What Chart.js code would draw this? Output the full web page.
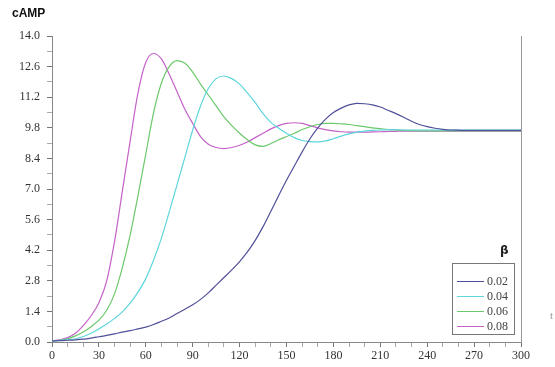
<!DOCTYPE html>
<html>
<head>
<meta charset="utf-8">
<script src="https://cdn.jsdelivr.net/npm/chart.js@4"></script>
<style>
  html, body { margin: 0; padding: 0; background: #fff; overflow: hidden; }
  #wrap { position: relative; width: 555px; height: 367px; }
  #c { position: absolute; left: 0; top: 0; }
  .ylab { position: absolute; left: 12px; top: 6px; font: bold 12px "Liberation Sans", Arial, sans-serif; color: #111; }
  .beta { position: absolute; left: 500px; top: 243px; font: bold 12px "DejaVu Sans", sans-serif; color: #222; }
  .tcut { position: absolute; left: 550px; top: 309px; font: 11px "Liberation Serif", serif; color: #999; }
  #legend { position: absolute; left: 452px; top: 263px; width: 63px; height: 72px; border: 1px solid #777; box-sizing: border-box; }
  .row { position: absolute; left: 4px; height: 14px; width: 60px; font: 12px "Liberation Serif", serif; color: #444; }
  .row i { position: absolute; left: 0; top: 7px; width: 27px; height: 0; border-top: 1px solid; }
  .row span { position: absolute; left: 30px; top: 0; line-height: 14px; }
</style>
</head>
<body>
<div id="wrap">
  <canvas id="c" width="555" height="367"></canvas>
  <div class="ylab">cAMP</div>
  <div class="beta">β</div>
  <div id="legend"></div>
  <div class="tcut">t</div>
</div>
<script>
// ── Veri ─────────────────────────────────────────
const tVals = [0,5,10,15,20,25,30,35,40,45,50,55,60,65,70,75,80,85,90,95,
  100,105,110,115,120,125,130,135,140,145,150,155,160,165,170,175,180,185,190,195,
  200,205,210,215,220,225,230,235,240,245,250,255,260,265,270,275,280,285,290,295,300];

const betaLabels = ['0.02', '0.04', '0.06', '0.08'];
const betaColors = ['#50509a', '#5fd6dc', '#6cc86c', '#c462c8'];

const camp002 = [0.05,0.06,0.08,0.1,0.13,0.18,0.24,0.3,0.37,0.45,0.52,0.6,0.68,0.8,0.95,1.1,1.3,1.5,1.7,1.95,
  2.25,2.6,2.95,3.3,3.68,4.12,4.65,5.28,5.98,6.7,7.4,8.05,8.7,9.3,9.8,10.2,10.5,10.7,10.85,10.92,
  10.9,10.85,10.75,10.6,10.45,10.28,10.1,9.95,9.85,9.78,9.73,9.7,9.69,9.68,9.68,9.68,9.68,9.68,9.68,9.68,9.68];

const camp004 = [0.05,0.07,0.1,0.15,0.25,0.4,0.6,0.82,1.08,1.38,1.78,2.28,2.9,3.75,4.75,5.95,7.2,8.45,9.7,10.8,
  11.6,12.05,12.17,12.05,11.8,11.4,10.95,10.45,10.05,9.78,9.55,9.35,9.22,9.17,9.16,9.2,9.3,9.42,9.52,9.6,
  9.65,9.68,9.7,9.71,9.72,9.7,9.7,9.7,9.7,9.7,9.7,9.7,9.7,9.7,9.7,9.7,9.7,9.7,9.7,9.7,9.7];

const camp006 = [0.05,0.08,0.15,0.28,0.46,0.7,1.0,1.45,2.2,3.4,4.9,6.7,8.6,10.5,11.85,12.6,12.87,12.75,12.35,11.8,
  11.3,10.8,10.3,9.9,9.55,9.25,9.02,8.95,9.08,9.25,9.4,9.55,9.72,9.85,9.95,10.0,10.0,9.98,9.95,9.9,
  9.85,9.8,9.76,9.72,9.7,9.68,9.67,9.66,9.66,9.66,9.66,9.66,9.66,9.66,9.66,9.66,9.66,9.66,9.66,9.66,9.66];

const camp008 = [0.05,0.1,0.2,0.4,0.75,1.2,1.8,2.8,4.6,6.9,9.2,11.4,12.8,13.2,12.95,12.25,11.45,10.65,10.0,9.4,
  9.05,8.9,8.85,8.9,9.0,9.15,9.35,9.55,9.75,9.9,10.0,10.03,10.0,9.9,9.8,9.72,9.66,9.62,9.6,9.6,
  9.6,9.61,9.62,9.63,9.64,9.65,9.65,9.65,9.65,9.65,9.65,9.65,9.65,9.65,9.65,9.65,9.65,9.65,9.65,9.65,9.65];

const seriesVals = [camp002, camp004, camp006, camp008];

// ── Lejant ───────────────────────────────────────
const legendEl = document.getElementById('legend');
betaLabels.forEach((lbl, i) => {
  const top = 10 + i * 15;
  legendEl.innerHTML += `<div class="row" style="top:${top}px"><i style="border-color:${betaColors[i]}"></i><span>${lbl}</span></div>`;
});

// ── Grafik ───────────────────────────────────────
const tickFont = { family: '"Liberation Serif", "Times New Roman", serif', size: 12 };

new Chart(document.getElementById('c'), {
  type: 'line',
  data: {
    datasets: seriesVals.map((vals, i) => ({
      label: betaLabels[i],
      data: tVals.map((t, j) => ({ x: t, y: vals[j] })),
      borderColor: betaColors[i],
      borderWidth: 1.2,
      pointRadius: 0,
      cubicInterpolationMode: 'monotone',
      fill: false
    }))
  },
  options: {
    responsive: false,
    animation: false,
    layout: { padding: { top: 36, right: 34, left: 0, bottom: 0 } },
    plugins: { legend: { display: false }, tooltip: { enabled: false } },
    scales: {
      x: {
        type: 'linear', min: 0, max: 300,
        afterFit: s => { s.height = 25; },
        grid: {
          drawOnChartArea: false, tickLength: 5,
          tickColor: c => (c.tick && c.tick.value % 30 === 0) ? '#777' : '#aaa'
        },
        border: { color: '#888', width: 1 },
        ticks: {
          stepSize: 10, autoSkip: false, maxRotation: 0, padding: 2,
          color: '#333', font: tickFont,
          callback: v => v % 30 === 0 ? String(v) : ''
        }
      },
      y: {
        min: 0, max: 14,
        afterFit: s => { s.width = 52; },
        grid: {
          drawOnChartArea: false, tickLength: 5,
          tickColor: c => (c.index % 2 === 0) ? '#777' : '#aaa'
        },
        border: { color: '#888', width: 1 },
        ticks: {
          stepSize: 0.7, autoSkip: false, padding: 7,
          color: '#333', font: tickFont,
          callback: (v, i) => i % 2 === 0 ? v.toFixed(1) : ''
        }
      },
      y2: {
        position: 'right', min: 0, max: 14,
        afterFit: s => { s.width = 0; },
        grid: { display: false, drawTicks: false },
        border: { color: '#999', width: 1 },
        ticks: { display: false }
      }
    }
  }
});
</script>
</body>
</html>
